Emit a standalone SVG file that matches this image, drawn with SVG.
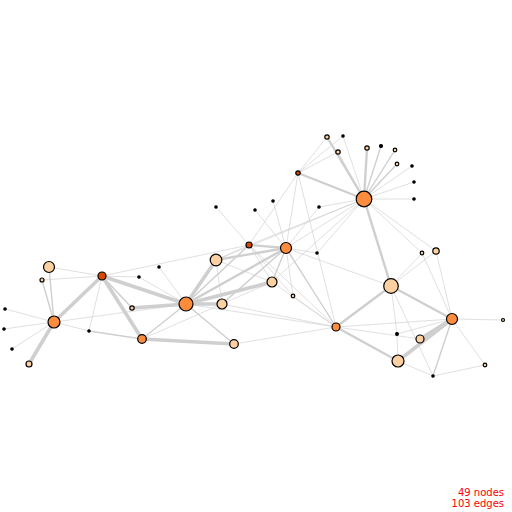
<svg xmlns="http://www.w3.org/2000/svg" width="512" height="512" viewBox="0 0 512 512">
<style>
.e line{stroke:#cfcfcf;stroke-linecap:round}
.t1{stroke-width:0.8;opacity:0.8}
.t2{stroke-width:1.4}
.t3{stroke-width:2.4}
.t4{stroke-width:3.6}
.n circle{stroke:#000;stroke-width:1.2}
.k{fill:#000}
.l{fill:#fdd0a2}
.o{fill:#fd8d3c}
.d{fill:#d94801}
.lab{font-family:"DejaVu Sans",sans-serif;font-size:10px;fill:#ff0000;text-anchor:end}
</style>
<rect width="512" height="512" fill="#fff"/>
<g class="e" id="edges">
<line class="t1" x1="49" y1="267" x2="102" y2="276"/>
<line class="t2" x1="49" y1="267" x2="54" y2="322"/>
<line class="t1" x1="42" y1="280" x2="102" y2="276"/>
<line class="t2" x1="42" y1="280" x2="54" y2="322"/>
<line class="t1" x1="102" y1="276" x2="139" y2="277"/>
<line class="t4" x1="102" y1="276" x2="54" y2="322"/>
<line class="t1" x1="102" y1="276" x2="89" y2="331"/>
<line class="t2" x1="102" y1="276" x2="132" y2="308"/>
<line class="t4" x1="102" y1="276" x2="142" y2="339"/>
<line class="t4" x1="102" y1="276" x2="186" y2="304"/>
<line class="t1" x1="102" y1="276" x2="249" y2="245"/>
<line class="t1" x1="5" y1="309" x2="54" y2="322"/>
<line class="t1" x1="4" y1="329" x2="54" y2="322"/>
<line class="t1" x1="12" y1="349" x2="54" y2="322"/>
<line class="t4" x1="29" y1="364" x2="54" y2="322"/>
<line class="t1" x1="54" y1="322" x2="89" y2="331"/>
<line class="t2" x1="89" y1="331" x2="142" y2="339"/>
<line class="t1" x1="54" y1="322" x2="186" y2="304"/>
<line class="t1" x1="139" y1="277" x2="186" y2="304"/>
<line class="t1" x1="159" y1="267" x2="186" y2="304"/>
<line class="t4" x1="132" y1="308" x2="186" y2="304"/>
<line class="t2" x1="142" y1="339" x2="186" y2="304"/>
<line class="t4" x1="142" y1="339" x2="234" y2="344"/>
<line class="t1" x1="142" y1="339" x2="222" y2="304"/>
<line class="t4" x1="186" y1="304" x2="216" y2="260"/>
<line class="t4" x1="186" y1="304" x2="222" y2="304"/>
<line class="t2" x1="186" y1="304" x2="234" y2="344"/>
<line class="t2" x1="186" y1="304" x2="249" y2="245"/>
<line class="t3" x1="186" y1="304" x2="286" y2="248"/>
<line class="t4" x1="186" y1="304" x2="272" y2="282"/>
<line class="t1" x1="186" y1="304" x2="336" y2="327"/>
<line class="t3" x1="216" y1="260" x2="286" y2="248"/>
<line class="t1" x1="216" y1="260" x2="249" y2="245"/>
<line class="t1" x1="216" y1="260" x2="222" y2="304"/>
<line class="t1" x1="216" y1="260" x2="272" y2="282"/>
<line class="t1" x1="216" y1="260" x2="364" y2="199"/>
<line class="t2" x1="222" y1="304" x2="286" y2="248"/>
<line class="t1" x1="222" y1="304" x2="336" y2="327"/>
<line class="t1" x1="234" y1="344" x2="336" y2="327"/>
<line class="t3" x1="249" y1="245" x2="286" y2="248"/>
<line class="t1" x1="249" y1="245" x2="272" y2="282"/>
<line class="t1" x1="249" y1="245" x2="293" y2="296"/>
<line class="t1" x1="249" y1="245" x2="216" y2="207"/>
<line class="t1" x1="249" y1="245" x2="298" y2="173"/>
<line class="t1" x1="249" y1="245" x2="364" y2="199"/>
<line class="t1" x1="249" y1="245" x2="336" y2="327"/>
<line class="t2" x1="286" y1="248" x2="272" y2="282"/>
<line class="t1" x1="286" y1="248" x2="293" y2="296"/>
<line class="t1" x1="286" y1="248" x2="317" y2="253"/>
<line class="t1" x1="286" y1="248" x2="298" y2="173"/>
<line class="t1" x1="286" y1="248" x2="364" y2="199"/>
<line class="t1" x1="286" y1="248" x2="255" y2="210"/>
<line class="t1" x1="286" y1="248" x2="273" y2="201"/>
<line class="t1" x1="286" y1="248" x2="319" y2="207"/>
<line class="t1" x1="286" y1="248" x2="391" y2="286"/>
<line class="t2" x1="286" y1="248" x2="336" y2="327"/>
<line class="t1" x1="272" y1="282" x2="364" y2="199"/>
<line class="t1" x1="272" y1="282" x2="336" y2="327"/>
<line class="t1" x1="317" y1="253" x2="364" y2="199"/>
<line class="t1" x1="298" y1="173" x2="336" y2="327"/>
<line class="t1" x1="298" y1="173" x2="327" y2="137"/>
<line class="t1" x1="298" y1="173" x2="343" y2="136"/>
<line class="t1" x1="298" y1="173" x2="338" y2="152"/>
<line class="t3" x1="298" y1="173" x2="364" y2="199"/>
<line class="t3" x1="327" y1="137" x2="364" y2="199"/>
<line class="t1" x1="338" y1="152" x2="364" y2="199"/>
<line class="t1" x1="343" y1="136" x2="364" y2="199"/>
<line class="t3" x1="367" y1="148" x2="364" y2="199"/>
<line class="t2" x1="381" y1="146" x2="364" y2="199"/>
<line class="t2" x1="395" y1="150" x2="364" y2="199"/>
<line class="t2" x1="397" y1="164" x2="364" y2="199"/>
<line class="t1" x1="412" y1="166" x2="364" y2="199"/>
<line class="t1" x1="414" y1="182" x2="364" y2="199"/>
<line class="t1" x1="414" y1="199" x2="364" y2="199"/>
<line class="t1" x1="319" y1="207" x2="364" y2="199"/>
<line class="t1" x1="422" y1="253" x2="364" y2="199"/>
<line class="t1" x1="436" y1="251" x2="364" y2="199"/>
<line class="t3" x1="391" y1="286" x2="364" y2="199"/>
<line class="t1" x1="422" y1="253" x2="391" y2="286"/>
<line class="t1" x1="436" y1="251" x2="391" y2="286"/>
<line class="t1" x1="422" y1="253" x2="452" y2="319"/>
<line class="t1" x1="436" y1="251" x2="452" y2="319"/>
<line class="t3" x1="391" y1="286" x2="452" y2="319"/>
<line class="t3" x1="391" y1="286" x2="336" y2="327"/>
<line class="t1" x1="391" y1="286" x2="397" y2="334"/>
<line class="t1" x1="391" y1="286" x2="433" y2="376"/>
<line class="t1" x1="452" y1="319" x2="503" y2="320"/>
<line class="t1" x1="452" y1="319" x2="336" y2="327"/>
<line class="t1" x1="452" y1="319" x2="397" y2="334"/>
<line class="t4" x1="452" y1="319" x2="420" y2="339"/>
<line class="t4" x1="452" y1="319" x2="398" y2="361"/>
<line class="t2" x1="452" y1="319" x2="433" y2="376"/>
<line class="t1" x1="452" y1="319" x2="485" y2="365"/>
<line class="t1" x1="336" y1="327" x2="420" y2="339"/>
<line class="t3" x1="336" y1="327" x2="398" y2="361"/>
<line class="t1" x1="397" y1="334" x2="398" y2="361"/>
<line class="t1" x1="398" y1="361" x2="433" y2="376"/>
<line class="t1" x1="433" y1="376" x2="485" y2="365"/>
<line class="t1" x1="222" y1="304" x2="272" y2="282"/>
<line class="t1" x1="293" y1="296" x2="336" y2="327"/>
</g>
<g class="n">
<g id="n1"><circle class="l" cx="49" cy="267" r="5.5"/></g>
<g id="n2"><circle class="l" cx="42" cy="280" r="2"/></g>
<g id="n3"><circle class="d" cx="102" cy="276" r="4"/></g>
<g id="n4"><circle class="k" cx="139" cy="277" r="1.2"/></g>
<g id="n5"><circle class="k" cx="5" cy="309" r="1.2"/></g>
<g id="n6"><circle class="k" cx="4" cy="329" r="1.2"/></g>
<g id="n7"><circle class="k" cx="12" cy="349" r="1.2"/></g>
<g id="n8"><circle class="o" cx="54" cy="322" r="6"/></g>
<g id="n9"><circle class="l" cx="29" cy="364" r="3"/></g>
<g id="n10"><circle class="k" cx="89" cy="331" r="1.2"/></g>
<g id="n11"><circle class="l" cx="132" cy="308" r="2.2"/></g>
<g id="n12"><circle class="o" cx="142" cy="339" r="4.3"/></g>
<g id="n13"><circle class="k" cx="159" cy="267" r="1.2"/></g>
<g id="n14"><circle class="o" cx="186" cy="304" r="7"/></g>
<g id="n15"><circle class="l" cx="216" cy="260" r="5.8"/></g>
<g id="n16"><circle class="l" cx="222" cy="304" r="5"/></g>
<g id="n17"><circle class="l" cx="234" cy="344" r="4.3"/></g>
<g id="n18"><circle class="d" cx="249" cy="245" r="3"/></g>
<g id="n19"><circle class="o" cx="286" cy="248" r="5.5"/></g>
<g id="n20"><circle class="l" cx="272" cy="282" r="5"/></g>
<g id="n21"><circle class="l" cx="293" cy="296" r="1.8"/></g>
<g id="n22"><circle class="k" cx="317" cy="253" r="1.2"/></g>
<g id="n23"><circle class="l" cx="327" cy="137" r="2.2"/></g>
<g id="n24"><circle class="k" cx="343" cy="136" r="1.2"/></g>
<g id="n25"><circle class="l" cx="338" cy="152" r="2.2"/></g>
<g id="n26"><circle class="d" cx="298" cy="173" r="2.2"/></g>
<g id="n27"><circle class="l" cx="367" cy="148" r="2.2"/></g>
<g id="n28"><circle class="k" cx="381" cy="146" r="1.5"/></g>
<g id="n29"><circle class="l" cx="395" cy="150" r="1.8"/></g>
<g id="n30"><circle class="l" cx="397" cy="164" r="1.8"/></g>
<g id="n31"><circle class="k" cx="412" cy="166" r="1.2"/></g>
<g id="n32"><circle class="k" cx="414" cy="182" r="1.2"/></g>
<g id="n33"><circle class="k" cx="414" cy="199" r="1.2"/></g>
<g id="n34"><circle class="o" cx="364" cy="199" r="7.8"/></g>
<g id="n35"><circle class="k" cx="216" cy="207" r="1.2"/></g>
<g id="n36"><circle class="k" cx="255" cy="210" r="1.2"/></g>
<g id="n37"><circle class="k" cx="273" cy="201" r="1.2"/></g>
<g id="n38"><circle class="k" cx="319" cy="207" r="1.2"/></g>
<g id="n40"><circle class="l" cx="422" cy="253" r="1.8"/></g>
<g id="n41"><circle class="l" cx="436" cy="251" r="3.2"/></g>
<g id="n42"><circle class="l" cx="391" cy="286" r="7.3"/></g>
<g id="n43"><circle class="o" cx="452" cy="319" r="5.5"/></g>
<g id="n44"><circle class="l" cx="503" cy="320" r="1.5"/></g>
<g id="n45"><circle class="o" cx="336" cy="327" r="4"/></g>
<g id="n46"><circle class="k" cx="397" cy="334" r="1.4"/></g>
<g id="n47"><circle class="l" cx="420" cy="339" r="4"/></g>
<g id="n48"><circle class="l" cx="398" cy="361" r="6"/></g>
<g id="n49"><circle class="k" cx="433" cy="376" r="1.2"/></g>
<g id="n50"><circle class="l" cx="485" cy="365" r="1.8"/></g>
</g>
<g id="legend">
<text class="lab" x="504" y="496">49 nodes</text>
<text class="lab" x="504" y="507">103 edges</text>
</g>
</svg>
